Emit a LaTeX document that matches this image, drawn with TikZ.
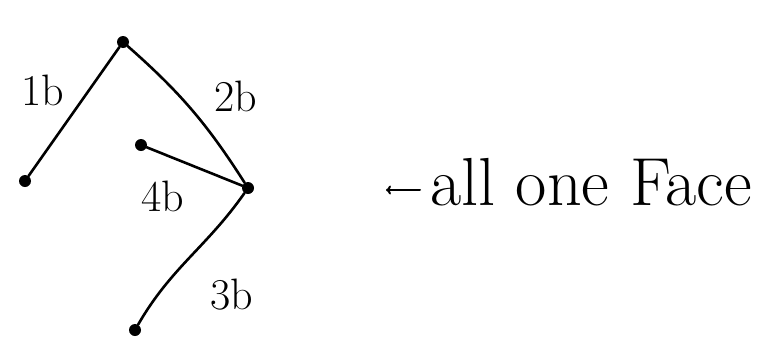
\documentclass[tikz,border=0pt]{standalone}
\usetikzlibrary{arrows.meta}
\begin{document}
\begin{tikzpicture}[x=1pt,y=-1pt,
  vtx/.style={circle,fill=black,inner sep=0pt,minimum size=12pt},
  edge/.style={line width=2.6pt,black,line cap=round},
  lbl/.style={font=\fontsize{44}{48}\selectfont,inner sep=0pt},
  note/.style={font=\fontsize{68}{74}\selectfont,inner sep=0pt,anchor=west}]
\useasboundingbox (0,0) rectangle (768,362);
\node[vtx] (T) at (123,42) {};
\node[vtx] (L) at (25,181) {};
\node[vtx] (R) at (248,188) {};
\node[vtx] (I) at (141,145) {};
\node[vtx] (B) at (135,330) {};
\draw[edge] (L) -- (T);
\draw[edge] (T) to[bend left=8] (R);
\draw[edge] (I) -- (R);
\draw[edge] (R) to[out=235,in=60] (B);
\node[lbl] (l1) at (43,90) {1b};
\node[lbl] (l2) at (236,96) {2b};
\node[lbl] (l4) at (163,196) {4b};
\node[lbl] (l3) at (232,295) {3b};
\node[note] (n) at (430,182) {all one Face};
\coordinate (a0) at (386,190);
\coordinate (a1) at (420,190);
\draw[edge,line width=2pt,-{To[length=5pt,width=9pt]}] (a1) -- (a0);
\end{tikzpicture}
\end{document}
